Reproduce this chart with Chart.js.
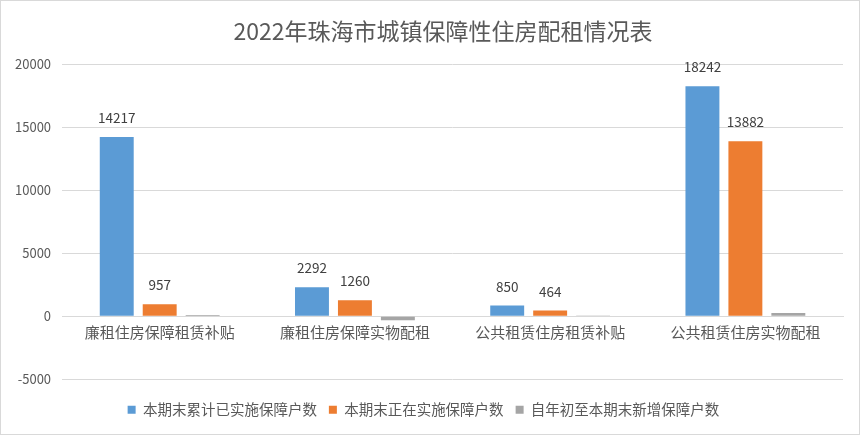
<!DOCTYPE html>
<html lang="zh">
<head>
    <meta charset="UTF-8">
    <title>2022年珠海市城镇保障性住房配租情况表</title>
    <script src="https://cdn.jsdelivr.net/npm/chart.js"></script>
    <style>
        html, body { margin: 0; padding: 0; background: #fff; }
        #wrap { width: 858px; height: 433px; border: 1px solid #d9d9d9; position: relative; }
    </style>
</head>
<body>
<div id="wrap"><canvas id="chartCanvas"></canvas></div>

<script>
    // chart data
    const chartTitle = "2022年珠海市城镇保障性住房配租情况表";
    const categories = ["廉租住房保障租赁补贴", "廉租住房保障实物配租", "公共租赁住房租赁补贴", "公共租赁住房实物配租"];
    const seriesNames = ["本期末累计已实施保障户数", "本期末正在实施保障户数", "自年初至本期末新增保障户数"];
    const totalDone = [14217, 2292, 850, 18242];
    const inProgress = [957, 1260, 464, 13882];
    const newThisYear = [90, -320, 60, 260];
    const yTicks = [-5000, 0, 5000, 10000, 15000, 20000];

    const textColor = "#595959";
    const fontFamily = "'Noto Sans CJK SC', 'Noto Sans', sans-serif";

    // title, drawn a bit right of centre like the original
    const titlePlugin = {
        id: "titleText",
        afterDraw(chart) {
            const ctx = chart.ctx;
            ctx.save();
            ctx.font = "23px " + fontFamily;
            ctx.fillStyle = textColor;
            ctx.textAlign = "center";
            ctx.textBaseline = "middle";
            ctx.fillText(chartTitle, chart.width / 2 + 13, 30);
            ctx.restore();
        }
    };

    // value labels above the bars (not for the grey series)
    const barLabels = {
        id: "barLabels",
        afterDatasetsDraw(chart) {
            const ctx = chart.ctx;
            ctx.save();
            ctx.font = "13.5px " + fontFamily;
            ctx.fillStyle = "#404040";
            ctx.textAlign = "center";
            ctx.textBaseline = "middle";
            [0, 1].forEach(i => {
                chart.getDatasetMeta(i).data.forEach((bar, j) => {
                    const v = chart.data.datasets[i].data[j];
                    ctx.fillText(String(v), bar.x, bar.y - 19);
                });
            });
            ctx.restore();
        }
    };

    const ctx = document.getElementById("chartCanvas").getContext("2d");
    new Chart(ctx, {
        type: "bar",
        data: {
            labels: categories,
            datasets: [
                { label: seriesNames[0], data: totalDone, backgroundColor: "#5B9BD5" },
                { label: seriesNames[1], data: inProgress, backgroundColor: "#ED7D31" },
                { label: seriesNames[2], data: newThisYear, backgroundColor: "#A5A5A5" }
            ]
        },
        options: {
            responsive: true,
            maintainAspectRatio: false,
            animation: false,
            categoryPercentage: 0.66,
            barPercentage: 0.79,
            layout: { padding: { left: 3, right: 16, top: 63, bottom: 7 } },
            plugins: {
                title: { display: false },
                legend: {
                    position: "bottom",
                    title: { display: true, text: "", font: { size: 1 }, padding: { top: 10, bottom: 0 } },
                    labels: {
                        boxWidth: 8,
                        boxHeight: 8,
                        color: textColor,
                        font: { size: 14.5, family: fontFamily },
                        padding: 12
                    }
                },
                tooltip: { enabled: false }
            },
            scales: {
                x: {
                    position: { y: 0 },
                    grid: { display: false, drawTicks: false },
                    border: { color: "#d9d9d9" },
                    ticks: { color: textColor, font: { size: 15, family: fontFamily }, padding: 7 }
                },
                y: {
                    min: yTicks[0],
                    max: yTicks[yTicks.length - 1],
                    afterBuildTicks: axis => { axis.ticks = yTicks.map(v => ({ value: v })); },
                    grid: { color: "#d9d9d9", drawTicks: false },
                    border: { display: false },
                    ticks: {
                        color: textColor,
                        font: { size: 13, family: fontFamily },
                        padding: 11,
                        callback: v => String(v)
                    }
                }
            }
        },
        plugins: [barLabels, titlePlugin]
    });
</script>
</body>
</html>
